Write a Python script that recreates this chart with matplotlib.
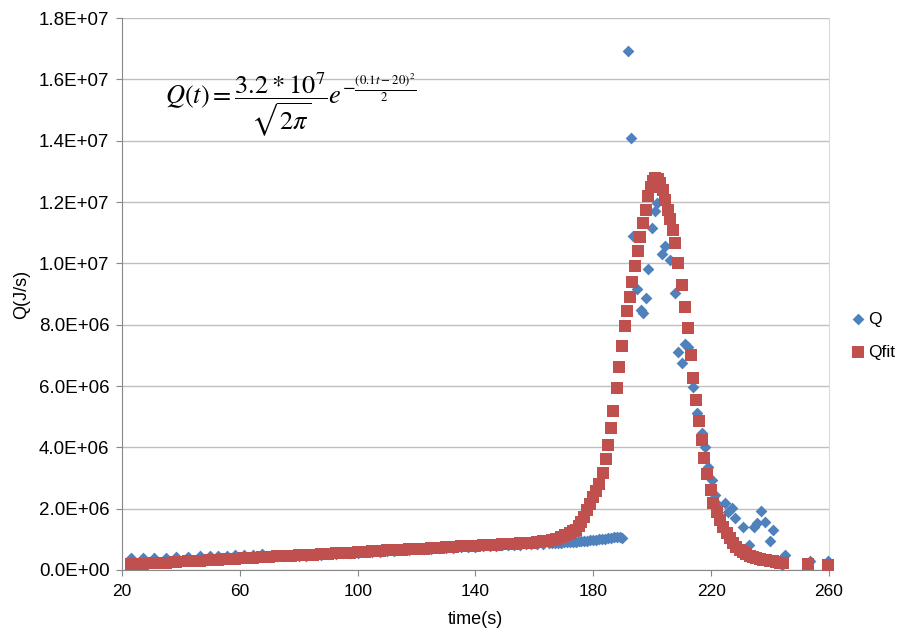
import matplotlib.pyplot as plt
from matplotlib.ticker import FuncFormatter, MultipleLocator

plt.rcParams['font.family'] = ['Liberation Sans', 'DejaVu Sans']
plt.rcParams['mathtext.fontset'] = 'stix'

# ---- measured series Q (time in s, heat release in 1e6 J/s) ----
t_q = [23, 27, 31, 35, 38.5, 42.5, 46.5, 50, 52.5, 55.5, 58.5, 61.5, 64.5, 67.5,
       70, 72.5, 75, 77.5, 80, 82.5, 85, 87.5, 90, 92.5, 95, 97.5, 100, 102.5,
       105, 107.5, 110, 112.5, 115, 117.5, 120, 122.5, 125, 127.5, 130, 132.5,
       135, 137.5, 140, 142.5, 145, 147, 149, 151, 153, 155, 157, 159, 161, 163,
       165, 166, 167, 168, 169, 170, 171, 172, 173, 174, 175, 176, 177, 178, 179,
       180, 181, 182, 183, 184, 185, 186, 187, 188, 189, 189.8,
       191.9, 192.7, 193.6, 195.0, 196.1, 197.0, 197.9, 198.7, 199.9, 200.9,
       201.6, 203.3, 204.5, 206.1, 207.8, 208.9, 210.2, 211.3, 212.3, 214.0,
       215.1, 216.8, 218.0, 219.1, 220.2, 221.3, 222.2, 224.8, 225.9, 227.0,
       228.0, 231.0, 232.7, 234.4, 235.7, 236.9, 238.3, 240.0, 240.9, 244.0,
       245.1, 253.6, 259.8]
q = [0.38, 0.38, 0.39, 0.40, 0.42, 0.42, 0.44, 0.45, 0.46, 0.47, 0.48, 0.49, 0.50, 0.51,
     0.45, 0.45, 0.44, 0.45, 0.46, 0.47, 0.48, 0.50, 0.51, 0.52, 0.54, 0.55, 0.56, 0.58,
     0.59, 0.60, 0.62, 0.63, 0.64, 0.66, 0.67, 0.68, 0.69, 0.71, 0.72, 0.73,
     0.74, 0.75, 0.76, 0.77, 0.78, 0.79, 0.80, 0.81, 0.82, 0.83, 0.84, 0.85, 0.86, 0.86,
     0.87, 0.87, 0.88, 0.88, 0.89, 0.90, 0.90, 0.91, 0.92, 0.92, 0.93, 0.94, 0.95, 0.96, 0.97,
     0.98, 0.99, 1.00, 1.01, 1.02, 1.04, 1.05, 1.07, 1.08, 1.08, 1.05,
     16.93, 14.08, 10.90, 9.15, 8.48, 8.37, 8.86, 9.80, 11.15, 11.70,
     11.98, 10.32, 10.58, 10.10, 9.02, 7.12, 6.76, 7.36, 7.27, 5.98,
     5.11, 4.46, 4.02, 3.37, 2.93, 2.45, 2.13, 2.17, 1.90, 2.01,
     1.70, 1.41, 0.82, 1.41, 1.54, 1.92, 1.58, 0.96, 1.30, 0.16,
     0.49, 0.30, 0.30]

# ---- fitted series Qfit ----
t_fit = [23, 27, 31, 35, 38.5, 42.5, 46.5, 50, 52.5, 55.5, 58.5, 61.5, 64.5, 67.5,
         70, 72.5, 75, 77.5, 80, 82.5, 85, 87.5, 90, 92.5, 95, 97.5, 100, 102.5,
         105, 107.5, 110, 112.5, 115, 117.5, 120, 122.5, 125, 127.5, 130, 132.5,
         135, 137.5, 140, 142.5, 145, 147, 149, 151, 153, 155, 157, 159, 161, 163,
         164.5, 166, 167.5, 169, 170.5, 172, 173, 174, 175, 176, 177, 178, 179, 180, 181,
         182.1, 183.2, 184.2, 185.1, 185.9, 186.8, 188.0, 188.9, 189.7,
         190.6, 191.5, 192.4, 193.3, 194.2, 195.1, 196.0, 196.9, 197.8, 198.7,
         199.5, 200.3, 201.1, 201.9, 202.7, 203.6, 204.5, 205.4, 206.2, 207.0,
         207.8, 208.9, 210.0, 211.2, 212.0, 213.1, 213.8, 214.9, 216.0, 216.8,
         217.7, 218.7, 219.9, 220.6, 221.9, 223.0, 224.2, 225.3, 226.4, 227.5,
         228.6, 229.8, 230.9, 232.0, 233.2, 234.3, 235.4, 236.6, 237.7, 238.8,
         240.0, 241.1, 242.2, 243.3, 244.5, 253.0, 259.8]
q_fit = [0.18, 0.20, 0.22, 0.24, 0.26, 0.28, 0.30, 0.32, 0.33, 0.35, 0.36, 0.38, 0.40, 0.41,
         0.42, 0.44, 0.45, 0.46, 0.48, 0.49, 0.50, 0.52, 0.53, 0.54, 0.56, 0.57, 0.58, 0.60,
         0.61, 0.62, 0.64, 0.65, 0.66, 0.68, 0.69, 0.70, 0.71, 0.73, 0.74, 0.75,
         0.77, 0.78, 0.79, 0.80, 0.82, 0.83, 0.84, 0.85, 0.86, 0.87, 0.88, 0.89, 0.91, 0.93,
         0.95, 0.98, 1.02, 1.07, 1.13, 1.21, 1.28, 1.30, 1.42, 1.56, 1.74, 1.95, 2.15, 2.38, 2.56,
         2.80, 3.17, 3.61, 4.08, 4.62, 5.20, 5.92, 6.63, 7.30,
         7.95, 8.45, 8.90, 9.40, 9.90, 10.40, 10.85, 11.30, 11.75, 12.20,
         12.50, 12.70, 12.78, 12.75, 12.62, 12.40, 12.08, 11.74, 11.45, 11.10,
         10.65, 10.00, 9.29, 8.59, 7.88, 7.00, 6.25, 5.54, 4.87, 4.24,
         3.64, 3.12, 2.61, 2.19, 1.90, 1.63, 1.41, 1.20, 1.03, 0.88,
         0.76, 0.66, 0.58, 0.52, 0.47, 0.43, 0.40, 0.37, 0.34, 0.32,
         0.30, 0.28, 0.26, 0.24, 0.22, 0.20, 0.16]

x_ticks = [20, 60, 100, 140, 180, 220, 260]

blue = '#4F81BD'
red = '#C0504D'
grid_grey = '#BFBFBF'

fig = plt.figure(figsize=(9.01, 6.37), dpi=100)
ax = fig.add_axes([0.1354, 0.1052, 0.7846, 0.8665])

ax.scatter(t_q, [v * 1e6 for v in q], marker='D', s=36, color=blue,
           linewidths=0, label='Q', zorder=3, clip_on=False)
ax.scatter(t_fit, [v * 1e6 for v in q_fit], marker='s', s=68, color=red,
           linewidths=0, label='Qfit', zorder=4, clip_on=False)

ax.set_xlim(20, 260)
ax.set_ylim(0, 1.8e7)
ax.set_xticks(x_ticks)
ax.yaxis.set_major_locator(MultipleLocator(2e6))
ax.yaxis.set_major_formatter(FuncFormatter(lambda v, p: f'{v:.1E}'))

ax.grid(axis='y', color=grid_grey, linewidth=1.0, zorder=0)
ax.set_axisbelow(True)
ax.spines['top'].set_visible(False)
ax.spines['right'].set_color('#D9D9D9')
ax.spines['left'].set_color('#888888')
ax.spines['bottom'].set_color('#888888')
ax.tick_params(axis='both', colors='#888888', length=4, labelcolor='black')
ax.tick_params(axis='x', labelsize=12.5, pad=6)
ax.tick_params(axis='y', labelsize=13.5, pad=5)

ax.set_xlabel('time(s)', fontsize=13, labelpad=9)
ax.set_ylabel('Q(J/s)', fontsize=13, labelpad=6)

# fitted formula
ax.text(0.061, 0.845,
        r'$Q(t)=\dfrac{3.2*10^7}{\sqrt{2\pi}}e^{-\frac{(0.1t-20)^2}{2}}$',
        transform=ax.transAxes, fontsize=19, va='center', ha='left')

fig.legend(loc='center left', bbox_to_anchor=(0.935, 0.473), frameon=False,
           fontsize=12.5, handletextpad=0.1, handlelength=1.0, labelspacing=1.0,
           borderaxespad=0)

fig.savefig('out.png', dpi=100)
